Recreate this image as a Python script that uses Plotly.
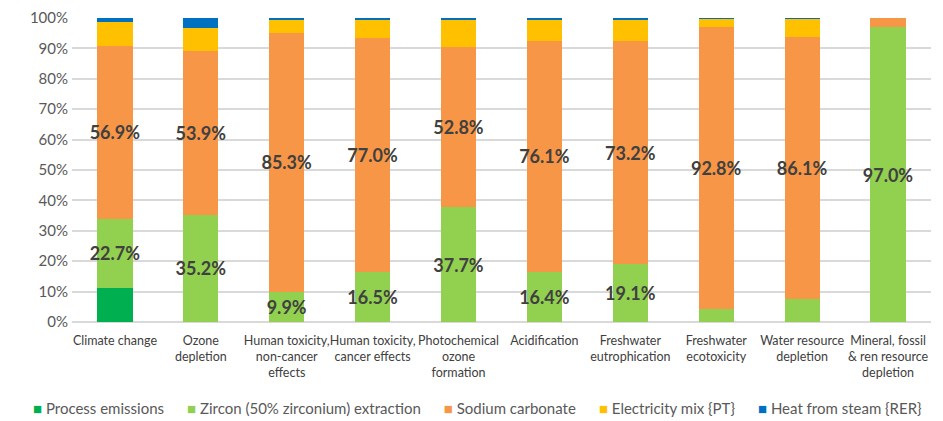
import plotly.graph_objects as go

# Impact categories (x axis)
categories = [
    "Climate change",
    "Ozone<br>depletion",
    "Human toxicity,<br>non-cancer<br>effects",
    "Human toxicity,<br>cancer effects",
    "Photochemical<br>ozone<br>formation",
    "Acidification",
    "Freshwater<br>eutrophication",
    "Freshwater<br>ecotoxicity",
    "Water resource<br>depletion",
    "Mineral, fossil<br>& ren resource<br>depletion",
]

# Contribution of each process (% of total impact)
process_emissions = [11.2, 0, 0, 0, 0, 0, 0, 0, 0, 0]
zircon_extraction = [22.7, 35.2, 9.9, 16.5, 37.7, 16.4, 19.1, 4.2, 7.5, 97.0]
sodium_carbonate = [56.9, 53.9, 85.3, 77.0, 52.8, 76.1, 73.2, 92.8, 86.1, 3.0]
electricity_mix = [7.9, 7.5, 4.4, 6.1, 8.7, 7.0, 7.3, 2.9, 6.1, 0]
heat_from_steam = [1.3, 3.4, 0.4, 0.4, 0.8, 0.5, 0.4, 0.1, 0.3, 0]

# Which segments carry a printed value
zircon_labels = [True, True, True, True, True, True, True, False, False, True]
sodium_labels = [True, True, True, True, True, True, True, True, True, False]

# Percentage axis
y_ticks = list(range(0, 101, 10))
y_tick_text = [f"{v}%" for v in y_ticks]

font_family = "Lato, 'Open Sans', sans-serif"


def label_text(values, show):
    return [f"{v:.1f}%" if s else "" for v, s in zip(values, show)]


series = [
    ("Process emissions", process_emissions, "#00B050", None),
    ("Zircon (50% zirconium) extraction", zircon_extraction, "#92D050",
     label_text(zircon_extraction, zircon_labels)),
    ("Sodium carbonate", sodium_carbonate, "#F79646",
     label_text(sodium_carbonate, sodium_labels)),
    ("Electricity mix {PT}", electricity_mix, "#FFC000", None),
    ("Heat from steam {RER}", heat_from_steam, "#0070C0", None),
]

fig = go.Figure()
for name, values, color, text in series:
    fig.add_trace(go.Bar(
        name=name,
        x=categories,
        y=values,
        marker=dict(color=color, line=dict(width=0)),
        text=text,
        textposition="inside" if text else "none",
        insidetextanchor="middle",
        textangle=0,
        constraintext="none",
        textfont=dict(family=font_family, size=18, color="#404040", weight="bold"),
        hoverinfo="skip",
    ))

# Compact legend row: coloured square followed by the series name
legend_parts = [
    f"<span style='color:{color};font-size:15px'>■</span> {name}"
    for name, _, color, _ in series
]
legend_text = "&nbsp;&nbsp;&nbsp;&nbsp;&nbsp;&nbsp;".join(legend_parts)

fig.add_annotation(
    text=legend_text,
    xref="paper", yref="paper",
    x=0.472, xanchor="center",
    y=-0.283, yanchor="middle",
    showarrow=False,
    font=dict(family=font_family, size=15, color="#595959"),
)

fig.update_layout(
    barmode="stack",
    bargap=0.59,
    width=943,
    height=421,
    margin=dict(l=72, r=12, t=18, b=99),
    paper_bgcolor="white",
    plot_bgcolor="white",
    font=dict(family=font_family, color="#595959"),
    showlegend=False,
)

fig.update_xaxes(
    tickfont=dict(size=12.5, color="#404040"),
    showgrid=False,
    showline=False,
    ticks="",
    tickangle=0,
    ticklabelstandoff=9,
    automargin=False,
)

fig.update_yaxes(
    range=[0, 100],
    tickvals=y_ticks,
    ticktext=y_tick_text,
    tickfont=dict(size=15, color="#595959"),
    showgrid=True,
    gridcolor="#D9D9D9",
    gridwidth=1.5,
    zeroline=True,
    zerolinecolor="#D9D9D9",
    zerolinewidth=1.5,
    showline=False,
    ticks="",
    ticklabelstandoff=3,
    automargin=False,
)

fig.write_html("out.html")
